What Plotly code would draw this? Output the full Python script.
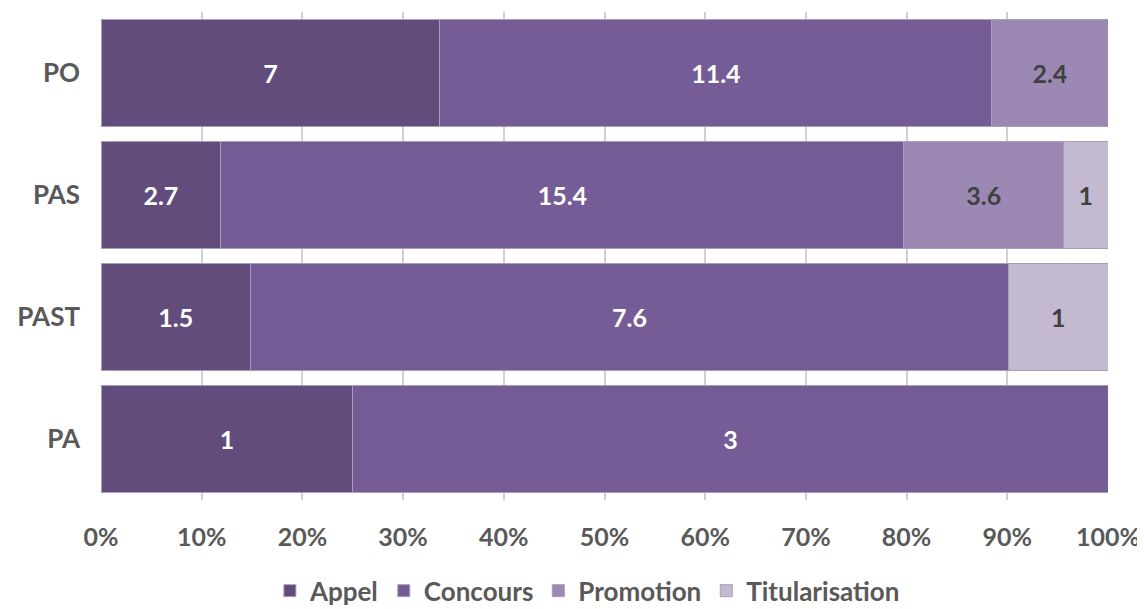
import plotly.graph_objects as go

categories = ["PO", "PAS", "PAST", "PA"]
series_names = ["Appel", "Concours", "Promotion", "Titularisation"]
appel = [7, 2.7, 1.5, 1]
concours = [11.4, 15.4, 7.6, 3]
promotion = [2.4, 3.6, None, None]
titularisation = [None, 1, 1, None]
colors = ["#614c7c", "#755c96", "#9b89b4", "#c3b9d1"]
text_colors = ["white", "white", "#404040", "#404040"]
x_ticks = list(range(0, 101, 10))
x_tick_labels = [f"{v}%" for v in x_ticks]

fig = go.Figure()
for name, vals, col, tc in zip(series_names, [appel, concours, promotion, titularisation], colors, text_colors):
    fig.add_trace(go.Bar(
        y=categories, x=vals, name=name, orientation="h",
        marker=dict(color=col, line=dict(color="#a89fb6", width=1)),
        text=[("" if v is None else f"{v:g}") for v in vals],
        textposition="inside", insidetextanchor="middle",
        textfont=dict(color=tc, size=25, family="Lato", weight="bold"),
        constraintext="none",
        hoverinfo="skip",
    ))

# page body has an 8px default margin, so the figure is shrunk/offset by 8px
fig.update_layout(
    barmode="stack", barnorm="percent", bargap=0.13,
    width=1137, height=601,
    margin=dict(l=93, r=37, t=4, b=109, autoexpand=False),
    plot_bgcolor="white", paper_bgcolor="white",
    font=dict(family="Lato", color="#595959"),
    uniformtext=dict(minsize=10, mode="show"),
    legend=dict(orientation="h", x=0.483, xanchor="center", y=-0.186, yanchor="middle",
                font=dict(size=26, family="Lato", color="#595959", weight="bold"),
                traceorder="normal", itemwidth=30, tracegroupgap=0,
                bgcolor="rgba(0,0,0,0)"),
    showlegend=True,
)
fig.update_xaxes(range=[0, 100], tickvals=x_ticks, ticktext=x_tick_labels,
                 showgrid=True, gridcolor="#d0d0d0", gridwidth=2,
                 zeroline=False, showline=False,
                 tickfont=dict(size=25, family="Lato", color="#595959", weight="bold"),
                 ticks="", ticklabelstandoff=20)
fig.update_yaxes(categoryorder="array", categoryarray=categories[::-1],
                 showgrid=False, zeroline=False, showline=False, ticks="",
                 tickfont=dict(size=26, family="Lato", color="#595959", weight="bold"),
                 ticklabelstandoff=20)

fig.write_html("out.html")
